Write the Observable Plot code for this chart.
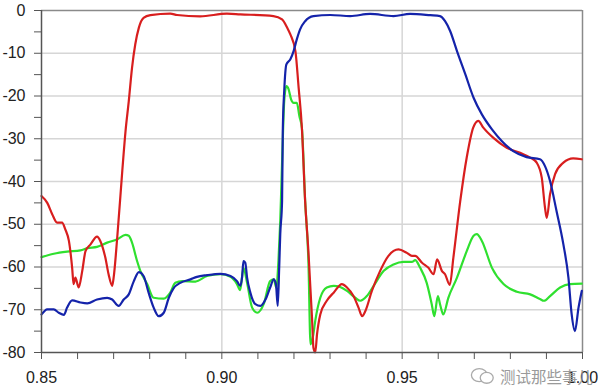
<!DOCTYPE html>
<html>
<head>
<meta charset="utf-8">
<script src="https://cdn.jsdelivr.net/npm/d3@7"></script>
<script src="https://cdn.jsdelivr.net/npm/@observablehq/plot@0.6"></script>
<style>
  html, body { margin: 0; padding: 0; background: #fff; }
  #wrap { position: relative; width: 600px; height: 387px; overflow: hidden; }
  #wm { position: absolute; left: 470px; top: 366px; display: flex; align-items: center; color: #9a9a9a;
        font-family: "Noto Sans CJK SC", sans-serif; font-size: 15.5px; line-height: 20px; white-space: nowrap; }
</style>
</head>
<body>
<div id="wrap"></div>
<script>
// ---- data (frequency in GHz, level in dB) ----
const redX = [0.8500,0.8516,0.8530,0.8543,0.8557,0.8566,0.8576,0.8585,0.8589,0.8594,0.8603,0.8613,0.8622,0.8636,0.8654,0.8663,0.8677,0.8686,0.8696,0.8700,0.8710,0.8724,0.8733,0.8742,0.8751,0.8760,0.8770,0.8783,0.8802,0.8857,0.8876,0.8940,0.9014,0.9051,0.9143,0.9167,0.9181,0.9190,0.9204,0.9213,0.9222,0.9231,0.9240,0.9250,0.9254,0.9259,0.9264,0.9273,0.9291,0.9310,0.9333,0.9347,0.9365,0.9379,0.9389,0.9398,0.9416,0.9439,0.9462,0.9490,0.9513,0.9527,0.9536,0.9555,0.9573,0.9587,0.9597,0.9610,0.9619,0.9632,0.9642,0.9661,0.9679,0.9697,0.9711,0.9725,0.9753,0.9790,0.9827,0.9855,0.9873,0.9887,0.9896,0.9901,0.9910,0.9924,0.9947,0.9974,0.9998];
const redY = [-43.4,-45.0,-47.7,-49.6,-49.6,-51.2,-53.9,-60.2,-64.0,-62.5,-64.8,-60.9,-56.3,-54.7,-52.9,-53.9,-57.8,-61.7,-64.4,-62.5,-53.1,-37.5,-28.2,-21.2,-13.4,-7.9,-4.0,-1.7,-1.1,-0.75,-1.05,-1.36,-0.75,-0.9,-1.3,-2.1,-4.0,-5.6,-9.5,-18.1,-27.5,-44.6,-56.3,-71.9,-78.9,-80.0,-75.7,-71.1,-67.9,-66.0,-64.0,-64.8,-66.8,-69.5,-71.5,-70.3,-65.6,-60.9,-57.4,-55.9,-56.7,-57.4,-57.4,-59.0,-60.2,-61.7,-58.2,-60.9,-61.7,-64.2,-57.8,-44.6,-34.4,-27.4,-25.8,-27.4,-29.8,-32.1,-33.3,-34.4,-35.6,-39.1,-46.1,-48.5,-43.0,-38.3,-35.6,-34.6,-34.8];

const blueX = [0.8500,0.8516,0.8534,0.8548,0.8562,0.8571,0.8585,0.8608,0.8627,0.8654,0.8682,0.8696,0.8714,0.8728,0.8742,0.8756,0.8770,0.8783,0.8797,0.8811,0.8825,0.8839,0.8853,0.8866,0.8885,0.8913,0.8931,0.8959,0.8996,0.9024,0.9042,0.9051,0.9056,0.9060,0.9065,0.9070,0.9079,0.9093,0.9107,0.9121,0.9134,0.9144,0.9150,0.9155,0.9159,0.9162,0.9167,0.9169,0.9173,0.9179,0.9190,0.9199,0.9208,0.9217,0.9231,0.9254,0.9301,0.9356,0.9411,0.9476,0.9522,0.9578,0.9605,0.9619,0.9633,0.9652,0.9675,0.9698,0.9721,0.9749,0.9776,0.9808,0.9845,0.9882,0.9896,0.9910,0.9928,0.9947,0.9961,0.9970,0.9979,0.9989,0.9998];
const blueY = [-71.1,-69.9,-69.9,-70.7,-71.2,-69.5,-67.8,-68.3,-68.5,-67.6,-67.2,-67.6,-69.1,-67.6,-66.4,-63.3,-61.2,-62.1,-66.0,-69.5,-71.5,-70.7,-67.2,-65.0,-63.7,-62.9,-62.3,-61.9,-61.6,-62.1,-63.3,-64.4,-62.5,-58.6,-59.0,-62.5,-66.0,-68.7,-69.1,-67.6,-64.8,-62.9,-64.0,-69.1,-60.2,-52.3,-44.6,-28.2,-18.8,-12.6,-11.4,-9.5,-6.7,-4.4,-2.5,-1.3,-1.05,-1.3,-0.8,-1.3,-0.8,-1.1,-1.3,-2.5,-4.8,-9.5,-14.9,-20.4,-24.3,-27.8,-30.5,-32.9,-34.3,-34.8,-36.4,-39.9,-46.9,-54.7,-62.5,-71.1,-75.0,-69.5,-65.6];

const greenX = [0.8500,0.8534,0.8571,0.8608,0.8627,0.8654,0.8682,0.8710,0.8733,0.8742,0.8751,0.8765,0.8774,0.8793,0.8811,0.8839,0.8857,0.8871,0.8890,0.8927,0.8959,0.8996,0.9024,0.9042,0.9051,0.9060,0.9070,0.9084,0.9098,0.9116,0.9134,0.9144,0.9151,0.9157,0.9162,0.9168,0.9173,0.9179,0.9185,0.9192,0.9199,0.9208,0.9215,0.9222,0.9231,0.9240,0.9246,0.9253,0.9259,0.9273,0.9291,0.9310,0.9328,0.9347,0.9370,0.9384,0.9402,0.9421,0.9449,0.9476,0.9504,0.9527,0.9536,0.9550,0.9568,0.9582,0.9589,0.9599,0.9605,0.9614,0.9628,0.9652,0.9679,0.9698,0.9707,0.9721,0.9749,0.9781,0.9818,0.9855,0.9882,0.9893,0.9910,0.9938,0.9965,0.9998];
const greenY = [-57.7,-56.9,-56.4,-56.1,-55.6,-55.3,-54.3,-53.5,-52.5,-52.7,-54.3,-58.6,-60.9,-64.0,-67.2,-67.4,-66.0,-63.7,-63.3,-63.4,-62.1,-61.7,-62.3,-64.0,-65.4,-60.2,-63.7,-69.5,-70.7,-68.7,-63.3,-62.9,-64.8,-58.6,-49.2,-32.9,-21.2,-17.7,-18.4,-20.8,-21.6,-21.6,-24.7,-27.5,-44.6,-58.6,-78.1,-76.1,-72.6,-67.2,-64.8,-64.4,-64.7,-65.6,-67.2,-67.9,-66.8,-64.4,-60.9,-59.4,-58.8,-58.8,-58.4,-60.2,-63.7,-68.7,-71.5,-66.8,-68.7,-71.1,-67.2,-62.5,-56.3,-52.7,-52.3,-53.9,-60.2,-64.0,-65.8,-66.4,-67.5,-67.9,-66.8,-64.8,-64.0,-63.9];

const xMajorTicks = [0.85, 0.90, 0.95, 1.00];
const xMinorTicks = [0.86, 0.87, 0.88, 0.89, 0.91, 0.92, 0.93, 0.94, 0.96, 0.97, 0.98, 0.99];
const yMajorTicks = [0, -10, -20, -30, -40, -50, -60, -70, -80];
const yMinorTicks = [-5, -15, -25, -35, -45, -55, -65, -75];
const xGrid = [0.90, 0.95];
const yGrid = [-10, -20, -30, -40, -50, -60, -70];

const toRows = (xs, ys) => xs.map((x, i) => ({x, y: ys[i]}));
const red = toRows(redX, redY);
const blue = toRows(blueX, blueY);
const green = toRows(greenX, greenY);

const chart = Plot.plot({
  width: 600,
  height: 387,
  marginLeft: 41,
  marginRight: 18,
  marginTop: 10,
  marginBottom: 35,
  x: {domain: [0.85, 1.00]},
  y: {domain: [-80, 0]},
  style: {fontFamily: "'Liberation Sans', Arial, sans-serif", fontSize: "16px", color: "#222", background: "#fff"},
  marks: [
    Plot.ruleY(yGrid, {stroke: "#d6d6d6", strokeWidth: 1.5}),
    Plot.ruleX(xGrid, {stroke: "#d6d6d6", strokeWidth: 1.5}),
    Plot.ruleY([0], {stroke: "#8a8a8a", strokeWidth: 1.5}),
    Plot.ruleX([1.00], {stroke: "#8a8a8a", strokeWidth: 1.5}),
    Plot.line(green, {x: "x", y: "y", stroke: "#2fe02f", strokeWidth: 2.2, curve: "monotone-x"}),
    Plot.line(red, {x: "x", y: "y", stroke: "#d81e1e", strokeWidth: 2.2, curve: "monotone-x"}),
    Plot.line(blue, {x: "x", y: "y", stroke: "#1423aa", strokeWidth: 2.2, curve: "monotone-x"}),
    Plot.ruleX([0.85], {stroke: "#555", strokeWidth: 1.5}),
    Plot.ruleY([-80], {stroke: "#555", strokeWidth: 1.5}),
    Plot.axisY(yMajorTicks, {tickSize: 7, tickPadding: 9, tickFormat: d => String(d), label: null, stroke: "#555"}),
    Plot.axisY(yMinorTicks, {tickSize: 7, tickFormat: () => "", label: null, stroke: "#555"}),
    Plot.axisX(xMajorTicks, {tickSize: 7, tickPadding: 12, tickFormat: d => d.toFixed(2), label: null, stroke: "#555"}),
    Plot.axisX(xMinorTicks, {tickSize: 7, tickFormat: () => "", label: null, stroke: "#555"})
  ]
});

const wrap = document.getElementById("wrap");
wrap.appendChild(chart);
const wm = document.createElement("div");
wm.id = "wm";
wm.innerHTML = '<svg width="26" height="20" viewBox="0 0 28 20" style="margin-right:4px">' +
  '<ellipse cx="10" cy="9" rx="8.5" ry="7" fill="none" stroke="#aaa" stroke-width="1.4"/>' +
  '<ellipse cx="18" cy="12" rx="7" ry="5.8" fill="#fff" stroke="#aaa" stroke-width="1.4"/>' +
  '</svg><span>测试那些事儿</span>';
wrap.appendChild(wm);
</script>
</body>
</html>
